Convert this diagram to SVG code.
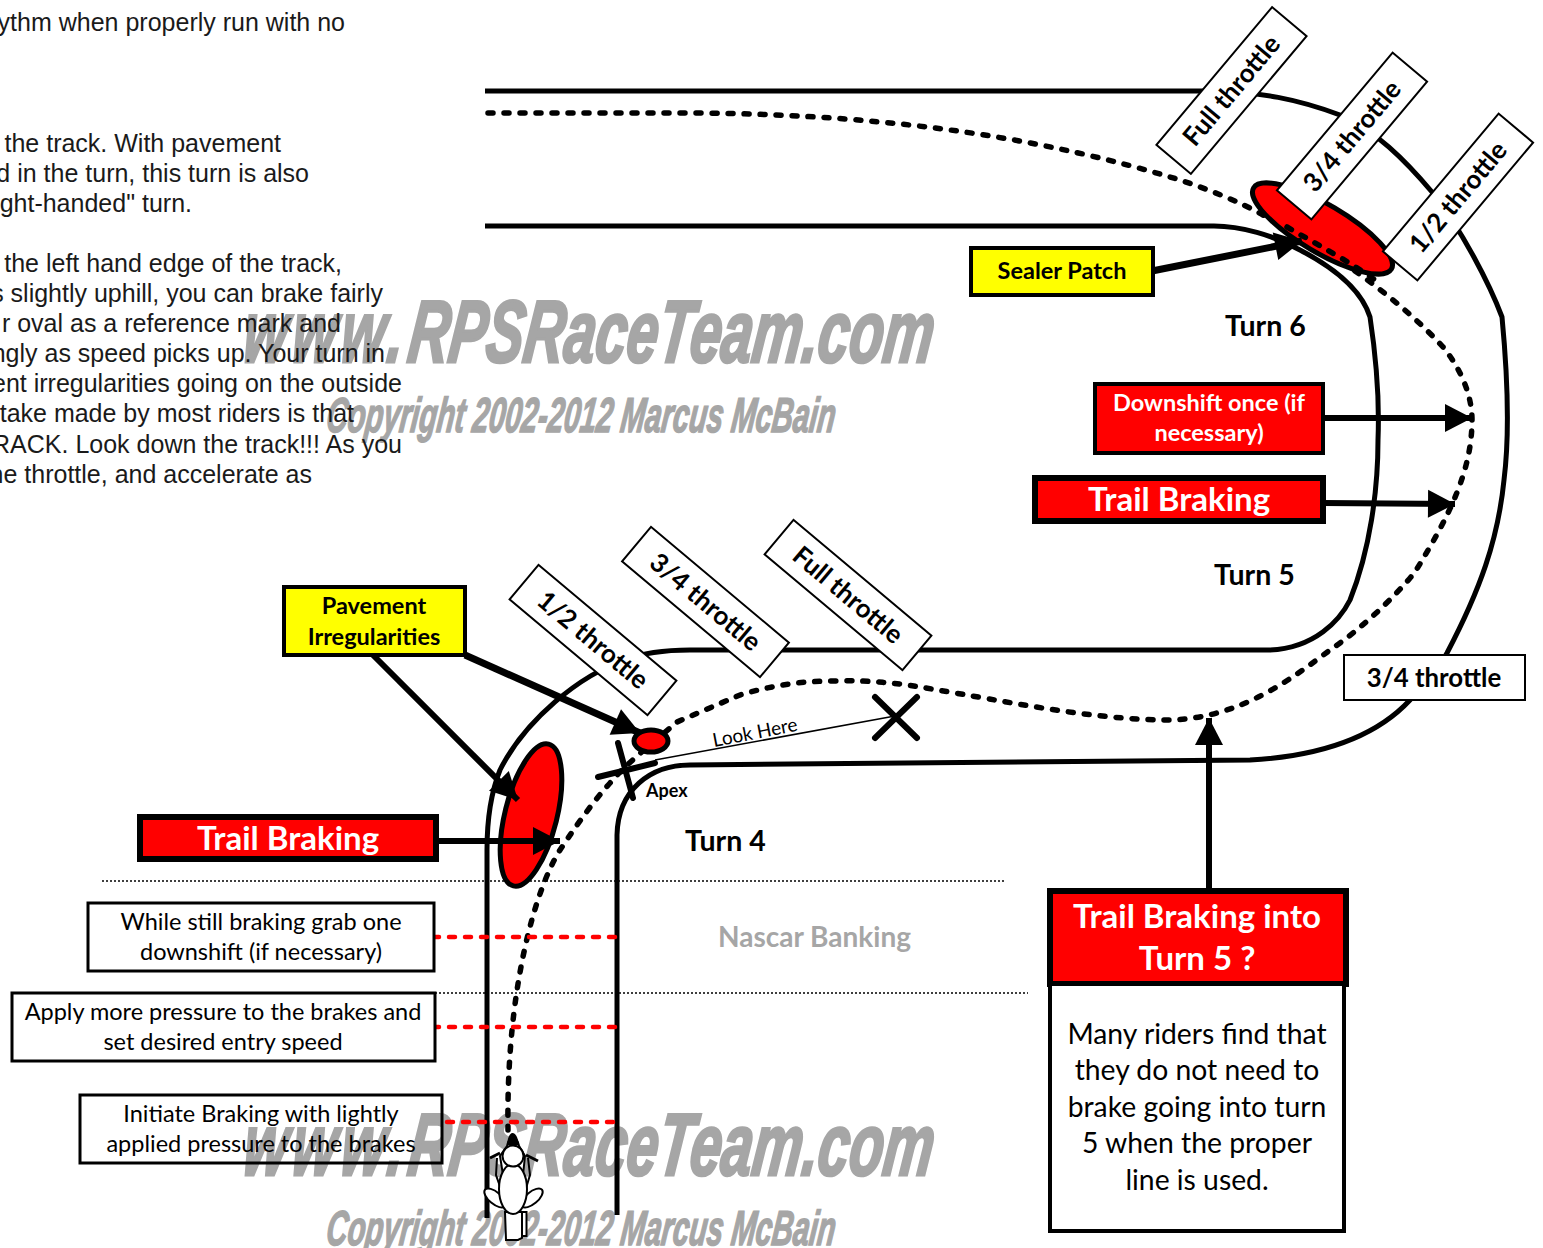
<svg xmlns="http://www.w3.org/2000/svg" width="1543" height="1248" viewBox="0 0 1543 1248">
<style>
text{font-family:"Lato","Carlito","Liberation Sans",sans-serif;fill:#000}
.body{font-family:"Liberation Sans",Arial,sans-serif;font-size:25px;text-anchor:end;fill:#1a1a1a}
.wm{font-family:"Liberation Sans",Arial,sans-serif;font-weight:700;font-style:italic;fill:#a6a6a6;stroke:#a6a6a6}
.c{text-anchor:middle}.b{font-weight:700}
.track{fill:none;stroke:#000;stroke-width:5}
.race{fill:none;stroke:#000;stroke-width:5.5;stroke-dasharray:5 11;stroke-linecap:round}
.red{stroke:#f00;stroke-width:4.5;stroke-dasharray:6 10;stroke-linecap:round;fill:none}
.dot{stroke:#000;stroke-width:1.5;stroke-dasharray:2 2;fill:none}
.arr{stroke:#000;fill:none;marker-end:url(#ah)}
.thin{fill:#fff;stroke:#000;stroke-width:2}
.oval{fill:#f00;stroke:#000;stroke-width:5}
.bx{fill:#fff;stroke:#000;stroke-width:3}
.moto{fill:#fff;stroke:#000;stroke-width:2}
.th{font-size:26px;font-weight:700;text-anchor:middle}
.n23{font-size:23.500px;text-anchor:middle}
.b23{font-size:23.500px;font-weight:700;text-anchor:middle}
.tb{font-size:33px;font-weight:700;text-anchor:middle;fill:#fff}
.m{font-size:28.300px;text-anchor:middle}
.turn{font-size:28.500px;font-weight:700}
</style>
<defs>
<marker id="ah" markerUnits="userSpaceOnUse" markerWidth="34" markerHeight="34" viewBox="0 0 34 34" refX="30" refY="17" orient="auto"><path d="M3 3 L30 17 L3 31 Z" fill="#000"/></marker>
</defs>
<rect width="1543" height="1248" fill="#fff"/>
<g id="watermarks">
<text class="wm" transform="translate(241 362) skewX(-7)" x="0" y="0" font-size="88" textLength="690" lengthAdjust="spacingAndGlyphs" stroke-width="3"><tspan letter-spacing="8">www.</tspan>RPSRaceTeam.com</text>
<text class="wm" transform="translate(325 432) skewX(-7)" x="0" y="0" font-size="49" textLength="509" lengthAdjust="spacingAndGlyphs" stroke-width="1.500">Copyright 2002-2012 Marcus McBain</text>
<text class="wm" transform="translate(241 1175) skewX(-7)" x="0" y="0" font-size="88" textLength="690" lengthAdjust="spacingAndGlyphs" stroke-width="3"><tspan letter-spacing="8">www.</tspan>RPSRaceTeam.com</text>
<text class="wm" transform="translate(325 1245) skewX(-7)" x="0" y="0" font-size="49" textLength="509" lengthAdjust="spacingAndGlyphs" stroke-width="1.500">Copyright 2002-2012 Marcus McBain</text>
</g>
<g id="body-text">
<text class="body" x="345" y="31">ythm when properly run with no</text>
<text class="body" x="281" y="152">the track. With pavement</text>
<text class="body" x="309" y="182">d in the turn, this turn is also</text>
<text class="body" x="192" y="212">ght-handed" turn.</text>
<text class="body" x="342" y="272">the left hand edge of the track,</text>
<text class="body" x="383" y="302">s slightly uphill, you can brake fairly</text>
<text class="body" x="341" y="332">r oval as a reference mark and</text>
<text class="body" x="385" y="362">ngly as speed picks up. Your turn in</text>
<text class="body" x="402" y="392">ent irregularities going on the outside</text>
<text class="body" x="354" y="422">take made by most riders is that</text>
<text class="body" x="402" y="453">RACK. Look down the track!!! As you</text>
<text class="body" x="312" y="483">ne throttle, and accelerate as</text>
</g>
<g id="connectors">
<path class="track" d="M485 91 H1205 C1260 91 1300 100 1340 115 C1375 130 1405 160 1432 192 C1462 230 1490 285 1502 317 C1508 380 1509 440 1504 480 C1498 540 1480 590 1447 653 C1432 680 1420 690 1410 700 C1385 727 1340 755 1250 760 L690 765 C650 765 618 790 617 835 V1215"/>
<path class="track" d="M485 226 H1210 C1240 225 1275 236 1300 250 C1325 263 1360 285 1370 317 C1375 350 1380 390 1378 440 C1378 490 1370 550 1350 600 C1340 620 1315 648 1270 650 H690 C665 650 645 652 625 660 C580 675 525 720 500 770 C490 795 487 820 487 850 V1218"/>
<path class="race" d="M488 113 H700 C900 115 1050 140 1180 180 C1210 190 1240 202 1263 215 L1287 227 C1340 258 1400 300 1443 347 C1458 365 1472 392 1472 420 C1472 470 1450 515 1415 572 C1395 597 1360 630 1330 650 C1290 680 1240 718 1170 720 C1090 720 1000 700 937 690 C900 683 870 680 833 681 C800 681 770 686 740 695 C700 712 677 722 677 722 C650 745 625 765 610 783 C590 805 570 835 560 850 C535 890 506 990 508 1130"/>
<line class="dot" x1="102" y1="881" x2="1005" y2="881"/>
<line class="dot" x1="435" y1="993" x2="1028" y2="993"/>
<line class="red" x1="433" y1="937" x2="618" y2="937"/>
<line class="red" x1="433" y1="1027" x2="618" y2="1027"/>
<line class="red" x1="447" y1="1122" x2="618" y2="1122"/>
<line x1="655" y1="760" x2="895" y2="716" stroke="#000" stroke-width="1.5"/>
<line x1="618" y1="743" x2="633" y2="798" stroke="#000" stroke-width="6" stroke-linecap="round"/>
<line x1="598" y1="777" x2="655" y2="763" stroke="#000" stroke-width="6" stroke-linecap="round"/>
<line x1="875" y1="697" x2="917" y2="738" stroke="#000" stroke-width="6" stroke-linecap="round"/>
<line x1="917" y1="697" x2="875" y2="738" stroke="#000" stroke-width="6" stroke-linecap="round"/>
</g>
<g id="oval-sealer"><ellipse class="oval" cx="1322.500" cy="228.500" rx="80" ry="24" transform="rotate(30.500 1322.500 228.500)"/></g>
<g id="oval-turn4"><ellipse class="oval" cx="531" cy="815" rx="26" ry="73" transform="rotate(14 531 815)"/></g>
<g id="oval-small"><ellipse class="oval" cx="651" cy="741" rx="17" ry="11"/></g>
<path class="race" d="M1287 227 C1320 246 1350 262 1375 280"/>
<g id="arrows">
<line class="arr" x1="1152" y1="271" x2="1302" y2="241" stroke-width="7"/>
<line class="arr" x1="1322" y1="418" x2="1472" y2="418" stroke-width="6"/>
<line class="arr" x1="1323" y1="503" x2="1455" y2="504" stroke-width="6"/>
<line class="arr" x1="436" y1="841" x2="560" y2="841" stroke-width="6"/>
<line class="arr" x1="465" y1="655" x2="640" y2="733" stroke-width="7"/>
<line class="arr" x1="373" y1="655" x2="518" y2="800" stroke-width="6"/>
<line class="arr" x1="1209" y1="890" x2="1209" y2="718" stroke-width="6"/>
</g>
<g id="throttle-top-full"><rect class="thin" x="-90" y="-22.500" width="180" height="45" transform="translate(1231.500 90.500) rotate(-50)"/><text class="th" transform="translate(1231.500 90.500) rotate(-50) translate(0 9)">Full throttle</text></g>
<g id="throttle-top-34"><rect class="thin" x="-90" y="-22.500" width="180" height="45" transform="translate(1352 136) rotate(-50)"/><text class="th" transform="translate(1352 136) rotate(-50) translate(0 9)">3/4 throttle</text></g>
<g id="throttle-top-12"><rect class="thin" x="-90" y="-22.500" width="180" height="45" transform="translate(1458 197) rotate(-50)"/><text class="th" transform="translate(1458 197) rotate(-50) translate(0 9)">1/2 throttle</text></g>
<g id="throttle-low-12"><rect class="thin" x="-90" y="-22.500" width="180" height="45" transform="translate(593 640) rotate(40)"/><text class="th" transform="translate(593 640) rotate(40) translate(0 9)">1/2 throttle</text></g>
<g id="throttle-low-34"><rect class="thin" x="-90" y="-22.500" width="180" height="45" transform="translate(705.500 602) rotate(40)"/><text class="th" transform="translate(705.500 602) rotate(40) translate(0 9)">3/4 throttle</text></g>
<g id="throttle-low-full"><rect class="thin" x="-90" y="-22.500" width="180" height="45" transform="translate(848 595) rotate(40)"/><text class="th" transform="translate(848 595) rotate(40) translate(0 9)">Full throttle</text></g>
<g id="throttle-right"><rect class="thin" x="1344" y="655" width="181" height="45"/><text class="b c" x="1434" y="687" font-size="25.800">3/4 throttle</text></g>
<g id="sealer-patch"><rect x="971" y="248" width="182" height="47" fill="#ff0" stroke="#000" stroke-width="4"/><text class="b23" x="1062" y="279">Sealer Patch</text></g>
<g id="downshift"><rect x="1095" y="384" width="228" height="69" fill="#f00" stroke="#000" stroke-width="4"/><text class="b23" x="1209" y="411" style="fill:#fff">Downshift once (if</text><text class="b23" x="1209" y="441" style="fill:#fff">necessary)</text></g>
<g id="trail-braking-right"><rect x="1035" y="478" width="288" height="43" fill="#f00" stroke="#000" stroke-width="6"/><text class="tb" x="1179" y="511">Trail Braking</text></g>
<g id="pavement"><rect x="284" y="587" width="181" height="68" fill="#ff0" stroke="#000" stroke-width="4"/><text class="b23" x="374" y="614">Pavement</text><text class="b23" x="374" y="645">Irregularities</text></g>
<g id="trail-braking-left"><rect x="140" y="817" width="296" height="42" fill="#f00" stroke="#000" stroke-width="6"/><text class="tb" x="288" y="850">Trail Braking</text></g>
<g id="note-downshift"><rect class="bx" x="88" y="903" width="346" height="68"/><text class="n23" x="261" y="930">While still braking grab one</text><text class="n23" x="261" y="960">downshift (if necessary)</text></g>
<g id="note-pressure"><rect class="bx" x="12" y="993" width="423" height="68"/><text class="n23" x="223" y="1020">Apply more pressure to the brakes and</text><text class="n23" x="223" y="1050">set desired entry speed</text></g>
<g id="note-initiate"><rect class="bx" style="fill:none" x="80" y="1095" width="362" height="68"/><text class="n23" x="261" y="1122">Initiate Braking with lightly</text><text class="n23" x="261" y="1152">applied pressure to the brakes</text></g>
<g id="trail-into-5"><rect x="1050" y="891" width="296" height="93" fill="#f00" stroke="#000" stroke-width="6"/><text class="tb" x="1197" y="928">Trail Braking into</text><text class="tb" x="1197" y="970">Turn 5 ?</text></g>
<g id="many-riders"><rect x="1050" y="984" width="294" height="247" fill="#fff" stroke="#000" stroke-width="4"/>
<text class="m" x="1197" y="1044">Many riders find that</text>
<text class="m" x="1197" y="1080">they do not need to</text>
<text class="m" x="1197" y="1117">brake going into turn</text>
<text class="m" x="1197" y="1153">5 when the proper</text>
<text class="m" x="1197" y="1190">line is used.</text></g>
<g id="labels">
<text class="turn" x="1225" y="336">Turn 6</text>
<text class="turn" x="1214" y="585">Turn 5</text>
<text class="turn" x="685" y="851">Turn 4</text>
<text class="b" x="718" y="947" font-size="28" style="fill:#a6a6a6">Nascar Banking</text>
<text class="b" x="646" y="797" font-size="18">Apex</text>
<text x="0" y="0" font-size="19" transform="translate(714 747) rotate(-11)">Look Here</text>
</g>
<g id="motorcycle">
<path class="moto" d="M505 1212 H522 V1238 L518 1240 H506 Z"/>
<rect class="moto" x="522" y="1212" width="4.500" height="24"/>
<ellipse class="moto" cx="495" cy="1198" rx="6" ry="13" transform="rotate(-50 495 1198)"/>
<ellipse class="moto" cx="532" cy="1198" rx="6" ry="13" transform="rotate(50 532 1198)"/>
<path d="M490 1158 L500 1153 M538 1161 L526 1155" stroke="#000" stroke-width="3"/>
<path class="moto" d="M507 1146 C508 1136 518 1136 519 1146 L525 1156 L523 1175 H503 L500 1156 Z"/>
<path class="moto" d="M497 1158 L496 1175 L503 1195 M528 1158 L530 1175 L524 1195" style="fill:none"/>
<path d="M507 1145 C508 1129 517 1129 519 1145 Z" fill="#000"/>
<ellipse class="moto" cx="513" cy="1189" rx="14" ry="25"/>
<circle class="moto" cx="513" cy="1156" r="10.500"/>
</g>
</svg>
